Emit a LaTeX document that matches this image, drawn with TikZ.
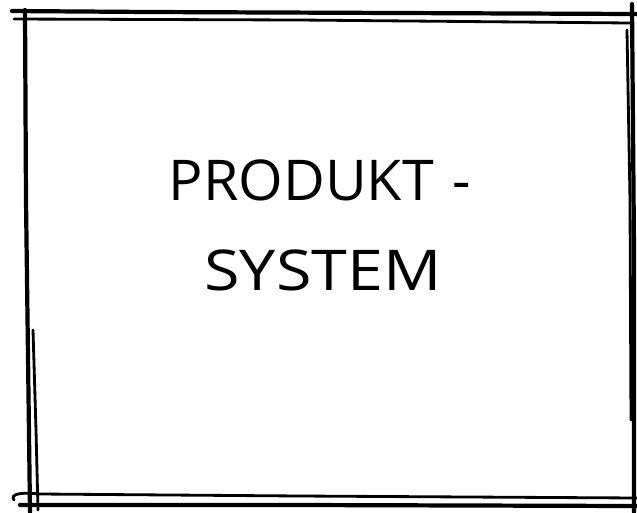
\documentclass[tikz,border=0pt]{standalone}
\usepackage{fontspec}
\setmainfont{Open Sans}

\begin{document}
\begin{tikzpicture}[x=0.02cm, y=-0.02cm,
  stroke/.style={line width=2.4pt, line cap=round, line join=round},
  thinstroke/.style={line width=1.6pt, line cap=round},
  lab/.style={font=\fontsize{32}{38}\selectfont, inner sep=0pt}]

  \useasboundingbox (0,0) rectangle (637,512);

  % Frame, top
  \draw[stroke] (12,11) -- (150,12) -- (400,13) -- (637,14);
  \draw[thinstroke] (14,19) -- (300,20) -- (630,23);
  % Frame, left
  \draw[stroke] (25,10) -- (26,200) -- (30,512);
  \draw[thinstroke] (33,330) -- (36,430) -- (38,510);
  % Frame, bottom
  \draw[thinstroke] (14,500) .. controls (10,494) and (20,492) .. (40,494) -- (300,496) -- (637,498);
  \draw[stroke] (20,505) -- (300,505) -- (637,506);
  % Frame, right
  \draw[stroke] (632,4) -- (634,250) -- (634,512);
  \draw[thinstroke] (627,30) -- (630,200) -- (631,420);

  % Label
  \node[lab, xscale=1.02] (top) at (320,180) {PRODUKT\,\,-};
  \node[lab, xscale=1.15] (bot) at (323,270) {SYSTEM};
\end{tikzpicture}
\end{document}
